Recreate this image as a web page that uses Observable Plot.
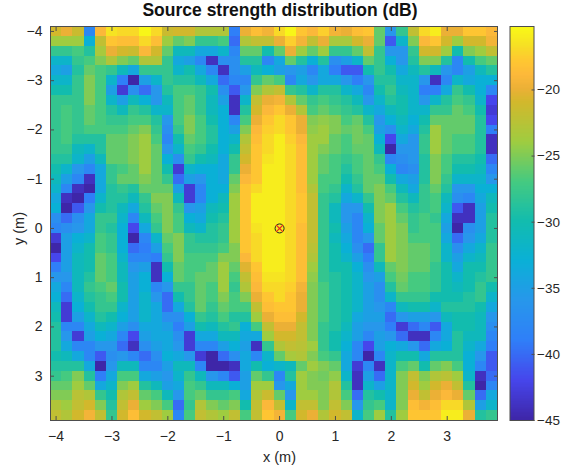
<!DOCTYPE html>
<html>
<head>
<meta charset="utf-8">
<script src="https://cdn.jsdelivr.net/npm/d3@7"></script>
<script src="https://cdn.jsdelivr.net/npm/@observablehq/plot@0.6"></script>
<style>
html,body{margin:0;padding:0;background:#fff}
#chart{position:relative;width:561px;height:468px;overflow:hidden}
#chart svg{position:absolute;top:0;background:transparent}
</style>
</head>
<body>
<div id="chart"></div>
<script>
const title = "Source strength distribution (dB)";
const xLabel = "x (m)";
const yLabel = "y (m)";
const xTicks = [-4,-3,-2,-1,0,1,2,3];
const yTicks = [-4,-3,-2,-1,0,1,2,3];
const barTicks = [-20,-25,-30,-35,-40,-45];
const cellSize = 0.2;
const xCenters = d3.range(40).map(i => +(-4 + i * cellSize).toFixed(1));
const yCenters = d3.range(40).map(i => +(-4 + i * cellSize).toFixed(1));
const source = [{x:0,y:0}];

const rows = [
[-21,-20,-21.5,-38,-19,-16.5,-17,-17,-15.5,-17,-21.5,-21,-21,-23,-23,-23,-39,-20,-18.5,-19.5,-17,-15.5,-18,-19,-17.5,-19.5,-20,-18.5,-18,-26,-36,-28,-22,-17,-16,-20,-20,-18,-18,-19],
[-24,-24,-24,-33,-22,-18,-18.5,-18.5,-17,-18.5,-24,-26,-25,-28,-28,-27,-40,-23,-22,-22,-20,-17.5,-19.5,-22,-20,-23.5,-23.5,-21,-20,-26,-41,-32,-25,-19,-18,-21,-24,-21,-21,-19.5],
[-28,-28,-27,-29,-23.5,-20,-21,-21.5,-19,-21,-26,-31,-31,-34,-34,-32,-38,-26,-26,-30,-26,-20,-24,-26,-24,-28,-28,-26,-22,-28,-36,-36,-28,-21,-21,-24,-30,-25,-24,-22],
[-32,-32,-28,-27,-25,-23,-25,-26,-23,-23,-28,-34,-35,-38,-44,-37,-37,-29,-29,-38,-34,-26,-29,-33,-29,-37,-35,-32,-26,-28,-33,-36,-29,-25,-25,-29,-38,-30,-27,-26],
[-34,-35,-29,-26,-27,-28,-31,-34,-28,-28,-28,-32,-30,-34,-38,-44,-37,-35,-31,-33,-35,-36,-35,-38,-34,-39,-41,-41,-30,-28,-30,-34,-31,-29,-31,-36,-38,-35,-31,-29],
[-32,-32,-28,-25,-27,-32,-39,-45,-35,-32,-28,-29,-29,-31,-34,-40,-38,-38,-28,-26,-27,-38,-34,-36,-34,-34,-36,-39,-36,-29,-29,-32,-32,-36,-44,-38,-32,-34,-33,-33],
[-30,-30,-28,-25,-27,-35,-43,-37,-40,-36,-29,-27,-27,-28,-30,-37,-41,-36,-25,-23,-22,-28,-29,-32,-29,-29,-32,-34,-38,-30,-28,-31,-32,-39,-39,-34,-28,-30,-33,-38],
[-28,-28,-28,-25,-27,-32,-35,-31,-33,-36,-31,-27,-26,-28,-31,-35,-44,-32,-22,-20,-19.5,-23,-26,-28,-27,-28,-29,-31,-36,-32,-29,-30,-32,-36,-32,-29,-27,-28,-32,-42],
[-28,-27,-28,-26,-27,-29,-31,-28,-29,-32,-32,-27,-26,-28,-31,-33,-44,-29,-21,-19,-18,-20,-23,-27,-26,-27,-28,-29,-32,-34,-31,-30,-32,-32,-28,-28,-26,-27,-30,-43],
[-28,-27,-28,-26,-27,-28,-28,-27,-27,-29,-36,-27,-25,-27,-30,-33,-38,-27,-20,-18,-17,-18,-20,-25,-24.5,-25,-27,-26,-29,-36,-33,-31,-33,-30,-26,-26,-26,-26,-29,-42],
[-28,-27,-28,-27,-27,-27,-27,-26,-25,-28,-37,-28,-25,-27,-29,-33,-35,-25,-19,-17.5,-17,-18,-20,-24.5,-24,-25,-26,-25.5,-27,-35,-37,-32,-34,-29,-24,-26,-26,-26,-29,-39],
[-28,-27,-29,-29,-29,-26,-26,-25,-24,-27,-38,-30,-26,-27,-29,-33,-32,-23,-18.5,-17,-16,-17.5,-19,-24,-24,-26,-27,-25.5,-26,-33,-42,-34,-36,-28,-24,-26,-27,-27,-29,-44],
[-28,-28,-31,-32,-29,-26,-26,-25,-24,-26,-36,-32,-27,-28,-30,-33,-30,-22,-18,-17,-16,-17,-18.5,-24,-25,-26,-27,-26,-26,-31,-45,-36,-36,-28,-24,-26,-27,-27,-29,-44],
[-29,-29,-32,-35,-31,-26,-26,-25,-24,-26,-33,-37,-28,-30,-31,-34,-28,-21,-18,-16.5,-16,-17,-18.5,-24,-26,-27,-28,-27,-26,-28,-38,-37,-36,-29,-25,-27,-29,-29,-30,-40],
[-30,-32,-36,-38,-34,-28,-27,-26,-24,-26,-30,-43,-32,-33,-33,-34,-28,-20,-18,-16,-16,-17,-18.5,-24,-26,-27,-29,-27,-26,-27,-33,-38,-37,-29,-25,-27,-30,-30,-31,-38],
[-31,-35,-38,-44,-34,-28,-26,-26,-25,-26,-28,-40,-35,-36,-33,-34,-26,-19,-18,-16,-16,-17,-18.5,-24,-27,-27,-30,-28,-26,-26,-30,-34,-35,-29,-25,-28,-32,-32,-32,-36],
[-32,-38,-44,-45,-34,-29,-28,-29,-26,-26,-26,-35,-43,-38,-33,-33,-25,-18,-17,-16,-16,-17,-18.5,-23,-27,-28,-32,-29,-26,-25,-27,-31,-34,-28,-26,-29,-36,-36,-33,-33],
[-34,-44,-45,-39,-32,-29,-29,-31,-28,-25,-25,-31,-43,-38,-33,-31,-24,-18,-16,-16,-16,-17,-18,-22,-28,-29,-34,-32,-28,-25,-26,-29,-31,-28,-27,-31,-37,-38,-34,-31],
[-33,-45,-41,-36,-30,-29,-31,-34,-29,-26,-25,-28,-36,-35,-31,-30,-24,-18,-16,-16,-16,-17,-18,-22,-28,-31,-36,-36,-30,-25,-24,-27,-29,-28,-27,-32,-41,-44,-35,-30],
[-37,-40,-37,-34,-28,-28,-32,-38,-31,-27,-25,-27,-33,-34,-30,-29,-24,-18,-16,-16,-16,-17,-18,-22,-28,-31,-36,-38,-32,-25,-24,-26,-28,-27,-28,-34,-44,-44,-35,-29],
[-38,-37,-36,-34,-28,-29,-33,-42,-34,-28,-25,-27,-31,-32,-29,-28,-24,-18,-16.5,-16,-16,-17,-18.5,-22,-28,-30,-35,-38,-33,-26,-24,-25,-28,-27,-27,-35,-45,-37,-35,-29],
[-43,-35,-33,-32,-27,-28,-33,-45,-38,-32,-26,-25,-28,-29,-29,-28,-24,-18,-17,-16,-16,-17,-18.5,-22,-28,-31,-34,-38,-36,-26,-24,-25,-27,-27,-27,-34,-40,-36,-34,-29],
[-45,-35,-32,-30,-27,-28,-33,-40,-39,-35,-27,-25,-28,-28,-28,-27,-25,-18,-17,-16,-16,-17,-18.5,-22.5,-28,-30,-33,-37,-40,-28,-24,-25,-26,-26,-27,-32,-37,-34,-32,-28],
[-42,-35,-31,-30,-26,-27,-32,-38,-38,-39,-28,-25,-27,-27,-27,-25,-25,-19,-17,-16,-16,-17,-18.5,-23,-28,-30,-32,-35,-39,-28,-24,-25,-26,-26,-27,-32,-35,-32,-31,-28],
[-39,-35,-31,-30,-26,-27,-31,-36,-35,-44,-30,-26,-27,-27,-26,-24,-26,-20.5,-18,-16,-16,-17,-18.5,-24,-28,-30,-30,-33,-37,-31,-26,-25,-26,-26,-28,-30,-34,-30,-30,-28],
[-36,-36,-31,-29,-26,-27,-31,-35,-33,-44,-33,-26,-27,-26,-26,-24,-27,-22,-18.5,-16.5,-16.5,-17,-18.5,-24.5,-28,-29,-30,-32,-36,-35,-27,-25.5,-27,-27,-28,-30,-32,-30,-29,-28],
[-34,-38,-31,-28,-27,-26,-30,-35,-33,-38,-36,-28,-28,-26,-27,-24,-28,-23,-19,-17,-17,-17.5,-19.5,-25,-27,-29,-30,-32,-35,-37,-29,-26,-27,-27,-28,-30,-31,-30,-28,-30],
[-33,-40,-32,-29,-28,-27,-30,-35,-32,-36,-40,-30,-28,-26,-27,-25,-27,-25,-20,-18,-17,-18,-20,-25,-27,-29,-30,-32,-35,-37,-32,-28,-28,-28,-30,-30,-30,-29,-28,-32],
[-31,-43,-33,-30,-28,-28,-32,-35,-32,-34,-40,-34,-29,-26,-28,-26,-27,-27,-22,-18.5,-18,-18,-20,-25,-27,-29,-30,-32,-35,-36,-38,-31,-30,-30,-32,-29,-29,-29,-30,-34],
[-30,-43,-35,-32,-29,-30,-33,-35,-32,-34,-37,-37,-33,-28,-29,-27,-29,-29,-24,-20,-18.5,-18.5,-21,-25,-27,-29,-30,-34,-35,-35,-40,-36,-35,-35,-36,-31,-30,-30,-31,-36],
[-29,-38,-38,-34,-31,-32,-35,-37,-34,-34,-35,-39,-35,-30,-31,-29,-28,-33,-27,-22,-20,-20,-22,-25,-28,-29,-31,-35,-36,-36,-39,-43,-40,-38,-41,-34,-30,-30,-31,-37],
[-29,-36,-43,-35,-33,-34,-38,-42,-35,-34,-34,-37,-43,-34,-34,-31,-31,-34,-34,-24,-21,-21,-22,-25,-28,-30,-32,-35,-38,-35,-36,-40,-44,-44,-38,-34,-29,-31,-31,-38],
[-29,-34,-38,-38,-36,-36,-40,-44,-37,-35,-34,-36,-43,-38,-38,-35,-33,-35,-44,-28,-23,-22,-22.5,-24,-28,-30,-33,-38,-42,-35,-33,-34,-36,-40,-34,-33,-29,-32,-34,-39],
[-30,-31,-34,-38,-41,-37,-36,-38,-40,-37,-33,-34,-36,-43,-45,-40,-37,-34,-38,-32,-26,-23.5,-23,-25,-27,-28,-34,-38,-45,-38,-32,-30,-30,-34,-29,-29,-29,-33,-36,-41],
[-29,-29,-29,-34,-45,-36,-31,-31,-38,-38,-35,-31,-31,-38,-45,-45,-44,-34,-30,-33,-32,-31,-26,-24,-25,-26,-34,-43,-38,-44,-32,-27,-26,-30,-26,-25,-27,-33,-38,-41],
[-28,-27,-25,-29,-39,-34,-27,-27,-34,-35,-36,-32,-28,-31,-36,-38,-41,-35,-26,-28,-38,-29,-24,-25,-25.5,-24.5,-32,-44,-35,-40,-32,-25,-22,-25,-23,-22.5,-24,-32,-44,-40],
[-26,-26,-24,-26,-34,-32,-25,-24,-29,-31,-35,-34,-27,-28,-31,-31,-33,-35,-24,-24,-36,-34,-24,-25,-25,-23,-29,-44,-32,-35,-32,-25,-21,-24,-21,-20,-22,-29,-45,-38],
[-25,-25,-22.5,-23,-28,-30,-23,-22,-26,-27,-31,-36,-27,-26,-28,-28,-27,-34,-23,-21.5,-26,-36,-24,-24,-25,-23,-27,-40,-29,-30,-32,-25,-20,-22,-20,-19,-20,-26,-40,-34],
[-23,-24,-22,-21,-25,-29,-22,-20,-24,-25,-27,-40,-28,-23,-25,-26,-25,-30,-22,-19,-22,-32,-22,-22,-25,-22,-25,-36,-28,-27,-32,-25,-18.5,-19.5,-18.5,-17,-17,-23,-35,-32],
[-22,-23,-21,-19.5,-22,-28,-21,-18.5,-21,-22,-24,-38,-27,-22,-23,-24,-22,-27,-22,-18,-19.5,-27,-21,-20,-23,-21,-22,-32,-27,-24,-29,-24,-18,-18,-18,-16,-16,-20,-29,-28]
];

const cells = rows.flatMap((row, r) => row.map((v, c) => ({x: xCenters[c], y: yCenters[r], v})));

const colorDomain = [-45,-42,-39,-36,-33,-30,-27,-24,-21,-20,-18.9,-17.8,-16.7,-15.2];
const colorRange = ["#3e26a8","#4646ec","#2f7ff8","#2797eb","#0ab0d6","#12bcae","#45ca80","#9fcc40","#d2b82c","#ebb036","#fdb93a","#fec830","#f6e024","#f9fb15"];
const color = {type:"linear", domain:colorDomain, range:colorRange, interpolate:"rgb", clamp:true};

const font = "'Liberation Sans', Arial, sans-serif";
const ink = "#262626";
const frameColor = "#4d4d4d";

const main = Plot.plot({
  width:561, height:468,
  marginLeft:50, marginRight:64, marginTop:26, marginBottom:48,
  style:{fontFamily:font, fontSize:"14px", color:ink, background:"transparent"},
  x:{domain:[-4.1,3.9]},
  y:{domain:[-4.1,3.9], reverse:true},
  color,
  marks:[
    Plot.rect(cells, {
      x1:d=>d.x-cellSize/2, x2:d=>d.x+cellSize/2,
      y1:d=>d.y-cellSize/2, y2:d=>d.y+cellSize/2,
      fill:"v", shapeRendering:"crispEdges"
    }),
    Plot.frame({stroke:frameColor, strokeWidth:1}),
    Plot.axisX(xTicks, {anchor:"bottom", tickSize:-4, tickPadding:15, stroke:frameColor, label:null, fill:ink, fontSize:14}),
    Plot.axisX(xTicks, {anchor:"top", tickSize:-4, tickFormat:()=>"", stroke:frameColor, label:null}),
    Plot.axisY(yTicks, {anchor:"left", tickSize:-4, tickPadding:12, stroke:frameColor, label:null, fill:ink, fontSize:14}),
    Plot.axisY(yTicks, {anchor:"right", tickSize:-4, tickFormat:()=>"", stroke:frameColor, label:null}),
    Plot.dot(source, {x:"x", y:"y", r:4.5, stroke:"#222", strokeWidth:1, fill:"none"}),
    Plot.dot(source, {x:"x", y:"y", r:3.2, symbol:"times", stroke:"#e8261c", strokeWidth:1.1}),
    Plot.text([title], {frameAnchor:"top", dy:-23, dx:6, lineAnchor:"top", fontSize:17.5, fontWeight:"bold", fill:"#111"}),
    Plot.text([xLabel], {frameAnchor:"bottom", dy:41, dx:5.5, lineAnchor:"bottom", fontSize:14.5, fill:ink}),
    Plot.text([yLabel], {frameAnchor:"left", dx:-31, dy:5, textAnchor:"middle", rotate:-90, fontSize:14.5, fill:ink})
  ]
});
document.getElementById("chart").appendChild(main);
main.style.left = "0px";

const barSteps = d3.range(colorDomain[0], colorDomain[colorDomain.length-1], 0.1);
const bar = Plot.plot({
  width:52, height:468,
  marginLeft:0.5, marginRight:27.5, marginTop:26, marginBottom:48,
  style:{fontFamily:font, fontSize:"14px", color:ink, background:"transparent"},
  x:{domain:[0,1], axis:null},
  y:{domain:[-45,-15.2]},
  color,
  marks:[
    Plot.rect(barSteps, {x1:0, x2:1, y1:d=>d, y2:d=>d+0.1, fill:d=>d, shapeRendering:"crispEdges"}),
    Plot.frame({stroke:frameColor, strokeWidth:1}),
    Plot.axisY(barTicks, {anchor:"right", tickSize:-3, tickPadding:6, stroke:frameColor, label:null, fill:ink, fontSize:13.5})
  ]
});
document.getElementById("chart").appendChild(bar);
bar.style.left = "509px";
</script>
</body>
</html>
